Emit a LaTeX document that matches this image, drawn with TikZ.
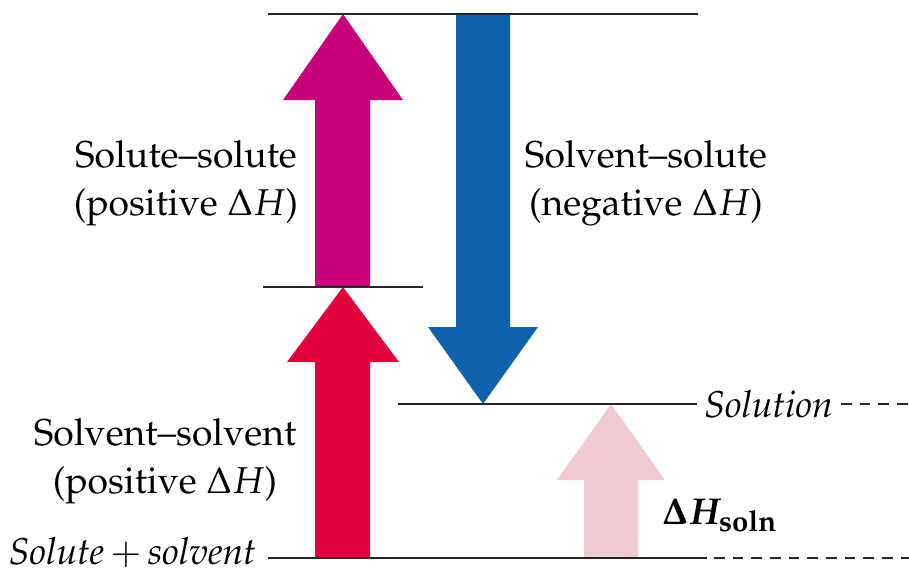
\documentclass[tikz,border=0pt]{standalone}
\usepackage[T1]{fontenc}
\usepackage{mathpazo}
\definecolor{cMag}{HTML}{C6007A}
\definecolor{cRed}{HTML}{E0003C}
\definecolor{cBlue}{HTML}{1062AC}
\definecolor{cPink}{HTML}{F2CAD4}
\tikzset{
  level/.style={line width=1.6pt, black!85},
  dashlevel/.style={line width=1.4pt, black!85, dash pattern=on 8pt off 6pt},
  lab/.style={font=\fontsize{28}{36}\selectfont, align=center, anchor=base, inner sep=0pt},
  itlab/.style={font=\fontsize{28}{36}\selectfont\itshape, inner sep=0pt},
}
\begin{document}
\begin{tikzpicture}[x=0.75pt,y=-0.75pt]
\useasboundingbox (0,0) rectangle (909,575);
% arrows
\fill[cMag] (315,287) -- (315,100) -- (283,100) -- (343,14) -- (403,100) -- (370,100) -- (370,287) -- cycle;
\fill[cRed] (315,558) -- (315,362) -- (287,362) -- (343,287) -- (399,362) -- (370,362) -- (370,558) -- cycle;
\fill[cBlue] (456,14) -- (456,327) -- (428,327) -- (483,404) -- (538,327) -- (510,327) -- (510,14) -- cycle;
\fill[cPink] (584,558) -- (584,480) -- (557,480) -- (611,404) -- (665,480) -- (638,480) -- (638,558) -- cycle;
% levels
\coordinate (t1) at (268,14);  \coordinate (t2) at (698,14);
\coordinate (m1) at (263,287); \coordinate (m2) at (423,287);
\coordinate (s1) at (398,404); \coordinate (s2) at (697,404);
\coordinate (b1) at (268,558); \coordinate (b2) at (707,558);
\coordinate (bd1) at (714,558); \coordinate (bd2) at (909,558);
\draw[level] (t1) -- (t2);
\draw[level] (m1) -- (m2);
\draw[level] (s1) -- (s2);
\draw[level] (b1) -- (b2);
\node[itlab, anchor=west] (sol) at (704,404) {Solution};
\coordinate (sd2) at (909,404);
\draw[dashlevel] ([xshift=6pt]sol.east) -- (sd2);
\draw[dashlevel] (bd1) -- (bd2);
\node[itlab, anchor=base east] (ss) at (256,564) {Solute\,$+$\,solvent};
% labels
\node[lab] (l1) at (186,215) {Solute--solute\\(positive $\Delta H$)};
\node[lab] (l2) at (646,215) {Solvent--solute\\(negative $\Delta H$)};
\node[lab] (l3) at (165,493) {Solvent--solvent\\(positive $\Delta H$)};
\node[font=\fontsize{28}{30}\selectfont\boldmath, anchor=base west, inner sep=0pt] (dh) at (662,524) {$\Delta H_{\hbox{\fontsize{22}{22}\selectfont\bfseries soln}}$};
\end{tikzpicture}
\end{document}
